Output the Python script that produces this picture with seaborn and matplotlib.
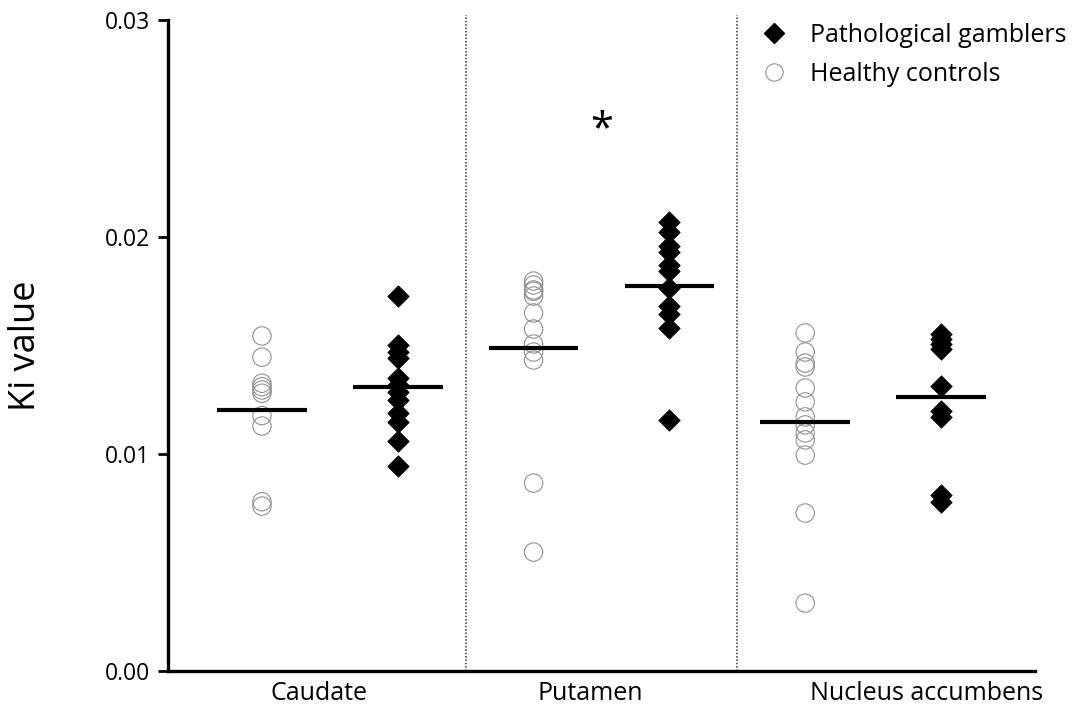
import numpy as np
import pandas as pd
import matplotlib
matplotlib.use('Agg')
import matplotlib.pyplot as plt
import matplotlib.transforms as mtransforms
from matplotlib.ticker import FormatStrFormatter
from matplotlib.lines import Line2D
import seaborn as sns

# Ki values
regions = ['Caudate', 'Putamen', 'Nucleus accumbens']
groups = ['Healthy controls', 'Pathological gamblers']

caudate_hc = [0.01544, 0.01446, 0.01326, 0.01310, 0.01295, 0.01280, 0.01177, 0.01129, 0.0078, 0.0076]
caudate_pg = [0.01728, 0.01502, 0.01470, 0.01442, 0.01350, 0.01318, 0.01286, 0.01249,
              0.01189, 0.01147, 0.01060, 0.00945]
putamen_hc = [0.01797, 0.01779, 0.01756, 0.01750, 0.01728, 0.01650, 0.01576, 0.01507,
              0.01470, 0.01433, 0.00866, 0.00548]
putamen_pg = [0.02069, 0.02023, 0.01959, 0.01931, 0.01871, 0.01843, 0.01765, 0.01682,
              0.01645, 0.01581, 0.01157]
nacc_hc = [0.01558, 0.01470, 0.01419, 0.01401, 0.01304, 0.01240, 0.01171, 0.01134,
           0.01097, 0.01065, 0.00995, 0.00728, 0.00313]
nacc_pg = [0.01553, 0.01530, 0.01507, 0.01484, 0.01313, 0.01198, 0.01171, 0.00811, 0.00779]

signif_region = 'Putamen'
signif_level = 0.0249

data = {
    'Caudate': (caudate_hc, caudate_pg),
    'Putamen': (putamen_hc, putamen_pg),
    'Nucleus accumbens': (nacc_hc, nacc_pg),
}

rows = []
for i, reg in enumerate(regions):
    hc, pg = data[reg]
    for v in hc:
        rows.append({'region': reg, 'group': groups[0], 'ki': v, 'pos': i - 0.25})
    for v in pg:
        rows.append({'region': reg, 'group': groups[1], 'ki': v, 'pos': i + 0.25})
df = pd.DataFrame(rows)

sns.set_style('ticks', {'axes.edgecolor': 'black', 'text.color': 'black',
                        'xtick.color': 'black', 'ytick.color': 'black',
                        'axes.labelcolor': 'black'})
plt.rcParams['font.family'] = ['Open Sans', 'DejaVu Sans']

fig = plt.figure(figsize=(10.89, 7.08), dpi=100)
ax = fig.add_axes([168 / 1089, 37 / 708, 867 / 1089, 651 / 708])

hc_df = df[df['group'] == groups[0]]
pg_df = df[df['group'] == groups[1]]

sns.scatterplot(data=hc_df, x='pos', y='ki', marker='o', s=175,
                facecolor='none', edgecolor='#909090', linewidth=0.8, ax=ax, legend=False)
sns.scatterplot(data=pg_df, x='pos', y='ki', marker='D', s=120,
                color='black', edgecolor='black', linewidth=0.5, ax=ax, legend=False)

# mean lines
means = df.groupby(['region', 'group'])['ki'].mean()
for i, reg in enumerate(regions):
    for g, off in zip(groups, [-0.25, 0.25]):
        ax.hlines(means[(reg, g)], i + off - 0.165, i + off + 0.165,
                  color='black', linewidth=3, zorder=3)

# separators between regions
for xs in [0.5, 1.5]:
    ax.axvline(xs, ymin=0, ymax=1.008, color='#333333', linestyle=(0, (1, 1.2)),
               linewidth=1.1, clip_on=False, zorder=0)

# significance mark
ax.text(regions.index(signif_region), signif_level, '*', ha='center', va='center',
        fontsize=30, color='black')

ax.set_xlim(-0.596, 2.596)
ax.set_ylim(0, 0.03)
ax.set_yticks([0, 0.01, 0.02, 0.03])
ax.yaxis.set_major_formatter(FormatStrFormatter('%.2f'))
ax.set_xticks(range(len(regions)))
ax.set_xticklabels(regions)
ax.tick_params(axis='x', length=0, labelsize=18, pad=7)
ax.tick_params(axis='y', length=7, width=2, labelsize=16.5, pad=6)

label_shift = [-11, -11, 53]
for lab, dx in zip(ax.get_xticklabels(), label_shift):
    lab.set_transform(lab.get_transform() + mtransforms.ScaledTranslation(dx / 100, 0, fig.dpi_scale_trans))

ax.set_xlabel('')
ax.set_ylabel('Ki value', fontsize=26)
ax.yaxis.set_label_coords(-0.143, 0.5)

sns.despine(ax=ax)
for sp in ['left', 'bottom']:
    ax.spines[sp].set_linewidth(2.4)

handles = [
    Line2D([], [], marker='D', color='black', linestyle='none', markersize=10),
    Line2D([], [], marker='o', markerfacecolor='none', markeredgecolor='#909090',
           linestyle='none', markersize=12.5, markeredgewidth=0.8),
]
fig.legend(handles, [groups[1], groups[0]], loc='upper left',
           bbox_to_anchor=(734 / 1089, 1 - 8 / 708), frameon=False, fontsize=18,
           handletextpad=0.45, labelspacing=0.55, borderaxespad=0.2)

plt.savefig('out.png', dpi=100)
